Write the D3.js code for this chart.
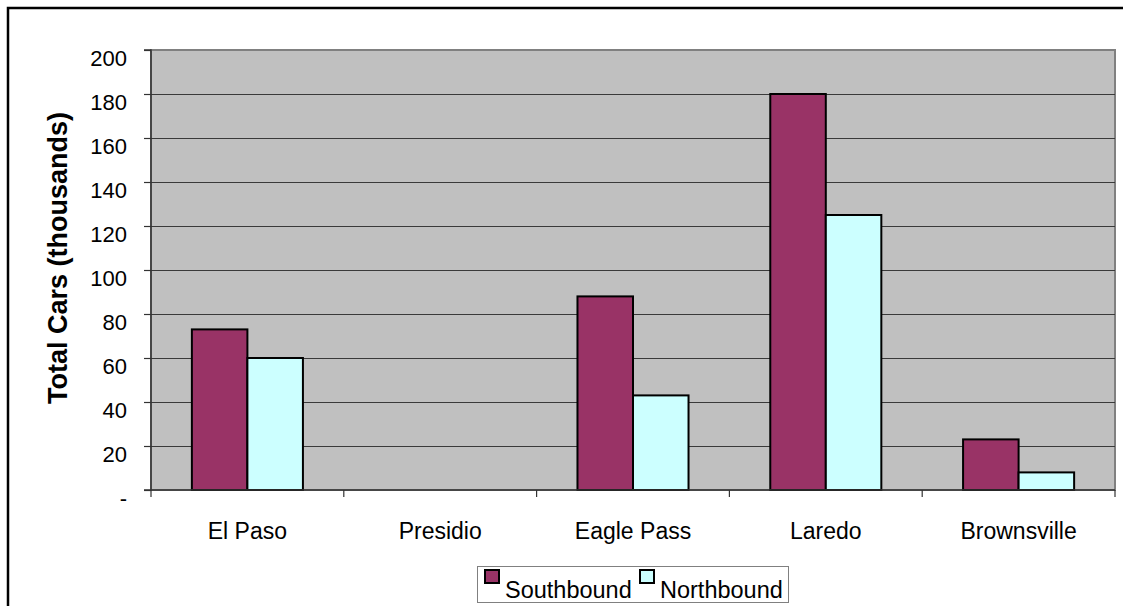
<!DOCTYPE html>
<html>
<head>
<meta charset="utf-8">
<script src="https://cdn.jsdelivr.net/npm/d3@7"></script>
<style>
  html, body { margin: 0; padding: 0; background: #fff; }
  svg { display: block; font-family: Arial, "Liberation Sans", sans-serif; }
</style>
</head>
<body>
<svg id="chart" width="1123" height="606"></svg>
<script>
// Total cars crossing by port, in thousands
const categories = ["El Paso", "Presidio", "Eagle Pass", "Laredo", "Brownsville"];
const seriesNames = ["Southbound", "Northbound"];
const southbound = [73, 0, 88, 180, 23];
const northbound = [60, 0, 43, 125, 8];
const yTicks = [0, 20, 40, 60, 80, 100, 120, 140, 160, 180, 200];
const colors = ["#993366", "#CCFFFF"];

const svg = d3.select("#chart");
const W = 1123, H = 606;
const plot = { left: 151, right: 1115, top: 50, bottom: 490 };

// outer chart frame (runs past the right and bottom edges)
svg.append("rect")
  .attr("x", 8).attr("y", 8)
  .attr("width", W + 20).attr("height", H + 20)
  .attr("fill", "#fff").attr("stroke", "#000").attr("stroke-width", 2.5);

const x = d3.scaleBand().domain(categories).range([plot.left, plot.right]).paddingInner(0).paddingOuter(0);
const y = d3.scaleLinear().domain([0, 200]).range([plot.bottom, plot.top]);

// plot area background
svg.append("rect")
  .attr("x", plot.left).attr("y", plot.top)
  .attr("width", plot.right - plot.left).attr("height", plot.bottom - plot.top)
  .attr("fill", "#C0C0C0").attr("stroke", "#808080").attr("stroke-width", 2);

// horizontal gridlines
svg.append("g").selectAll("line")
  .data(yTicks.filter(d => d > 0 && d < 200))
  .join("line")
  .attr("x1", plot.left).attr("x2", plot.right)
  .attr("y1", d => Math.round(y(d)) + 0.5).attr("y2", d => Math.round(y(d)) + 0.5)
  .attr("stroke", "#3a3a3a").attr("stroke-width", 1.2);

// bars
const bandW = x.bandwidth();
const barW = bandW * 0.288;
const groupOffset = (bandW - 2 * barW) / 2;
const series = [southbound, northbound];
series.forEach((vals, si) => {
  svg.append("g").selectAll("rect")
    .data(categories.map((c, i) => ({ c, v: vals[i] })).filter(d => d.v > 0))
    .join("rect")
    .attr("x", d => x(d.c) + groupOffset + si * barW)
    .attr("y", d => y(d.v))
    .attr("width", barW)
    .attr("height", d => y(0) - y(d.v))
    .attr("fill", colors[si])
    .attr("stroke", "#000").attr("stroke-width", 2);
});

// y axis
const yAxis = d3.axisLeft(y).tickValues(yTicks).tickSize(7).tickPadding(17)
  .tickFormat(d => d === 0 ? "-" : d3.format("d")(d));
const gy = svg.append("g").attr("transform", `translate(${plot.left},0)`).call(yAxis);
gy.select(".domain").attr("stroke", "#333").attr("stroke-width", 1.5).attr("d", `M-7,${plot.top}H0V${plot.bottom}H-7`);
gy.selectAll(".tick line").attr("stroke", "#333").attr("stroke-width", 1.2);
gy.selectAll(".tick text")
  .attr("font-size", 22).attr("fill", "#000").attr("dy", "0.32em")
  .attr("transform", "translate(0,8)");

// x axis
const xAxis = d3.axisBottom(x).tickSize(0).tickPadding(33);
const gx = svg.append("g").attr("transform", `translate(0,${plot.bottom})`).call(xAxis);
gx.select(".domain").attr("stroke", "#333").attr("stroke-width", 1.5).attr("d", `M${plot.left},0H${plot.right}`);
gx.selectAll(".tick text").attr("font-size", 23).attr("fill", "#000");
// category separator ticks
svg.append("g").selectAll("line")
  .data(categories.map(c => x(c)).concat([plot.right]))
  .join("line")
  .attr("x1", d => d).attr("x2", d => d)
  .attr("y1", plot.bottom).attr("y2", plot.bottom + 7)
  .attr("stroke", "#333").attr("stroke-width", 1.2);

// y axis title
svg.append("text")
  .attr("transform", `translate(67,258) rotate(-90)`)
  .attr("text-anchor", "middle")
  .attr("font-size", 27).attr("font-weight", "bold")
  .text("Total Cars (thousands)");

// legend
const legend = svg.append("g");
legend.append("rect")
  .attr("x", 477.5).attr("y", 566.5).attr("width", 311).attr("height", 36)
  .attr("fill", "#fff").attr("stroke", "#808080").attr("stroke-width", 1);
const legendItems = [{ x: 484, tx: 505 }, { x: 639, tx: 660 }];
seriesNames.forEach((name, i) => {
  legend.append("rect")
    .attr("x", legendItems[i].x + 1).attr("y", 570)
    .attr("width", 14).attr("height", 13)
    .attr("fill", colors[i]).attr("stroke", "#000").attr("stroke-width", 2);
  legend.append("text")
    .attr("x", legendItems[i].tx).attr("y", 598)
    .attr("font-size", 23.5)
    .text(name);
});
</script>
</body>
</html>
